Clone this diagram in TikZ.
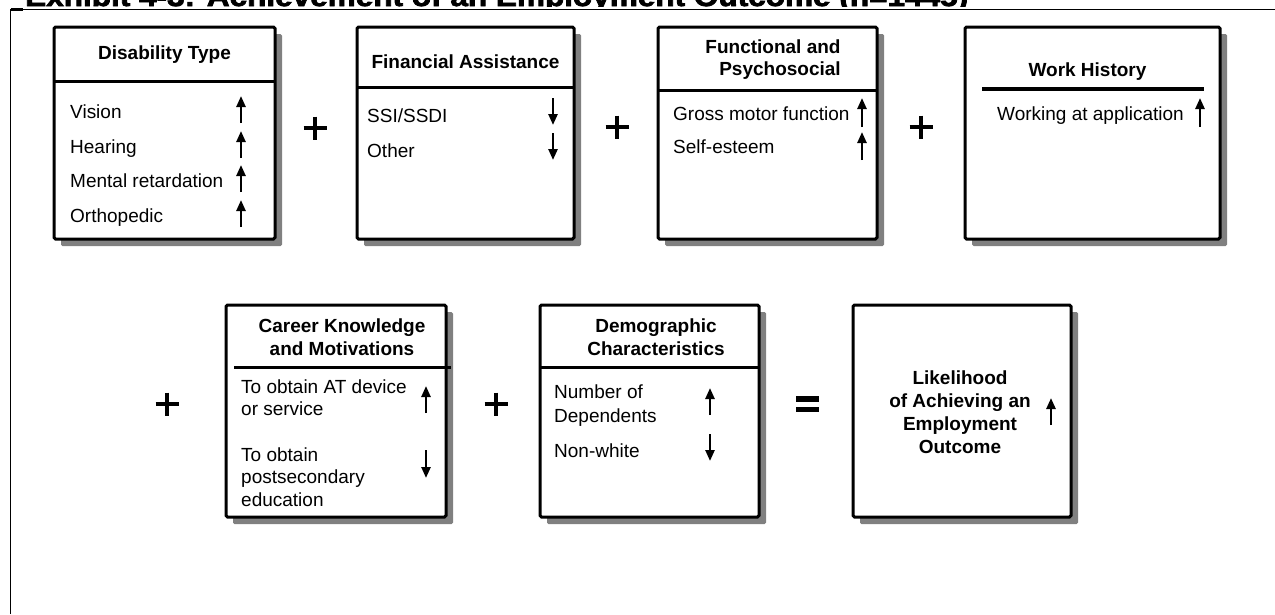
\documentclass[tikz,border=0pt]{standalone}
\usepackage{graphicx}
\usepackage{fontspec}
\setmainfont{Liberation Sans}
\newfontfamily\titlefont{Liberation Sans}[BoldFeatures={FakeBold=2.5}]
\usetikzlibrary{arrows.meta,shadows}
\definecolor{shade}{HTML}{808080}
\tikzset{
  panel/.style={draw=black, line width=3pt, fill=white, rounded corners=1.5pt, anchor=north west,
    inner sep=0pt, outer sep=0pt,
    general shadow={fill=shade, shadow xshift=7pt, shadow yshift=-7pt}},
  divider/.style={line width=3pt},
  lbl/.style={anchor=base west, inner sep=0pt, font=\fontsize{19}{22}\selectfont},
  head/.style={anchor=base, inner sep=0pt, font=\bfseries\fontsize{19}{22}\selectfont},
  trend/.style={line width=2.4pt, -{Triangle[width=9pt,length=11pt]}},
  signline/.style={line width=4.2pt},
  plussign/.pic={\draw[signline] (-11.5,0) -- (11.5,0) (0,-11.5) -- (0,11.5);},
}
\begin{document}
\begin{tikzpicture}[x=1pt,y=-1pt]
\useasboundingbox (0,0) rectangle (1275,614);

% frame and (cut) title
\begin{scope}
  \clip (0,-5) rectangle (1275,6.3);
  \node[anchor=base west, inner sep=0pt, font=\titlefont\bfseries\fontsize{28}{28}\selectfont] (title) at (25,6)
    {\resizebox{943pt}{\height}{Exhibit 4-3: Achievement of an Employment Outcome (n=1445)}};
\end{scope}
\coordinate (fTL) at (10.5,9.5);
\coordinate (fTR) at (1275,9.5);
\coordinate (fBL) at (10.5,614);
\coordinate (fTick) at (23,9.5);
\draw[line width=1.3pt] (fBL) -- (fTL) -- (fTR);
\draw[line width=2.6pt] (fTL) -- (fTick);

% ---------- row 1 ----------
\node[panel, minimum width=221pt, minimum height=212pt] (dis) at (54,27) {};
\draw[divider] (54,81) -- (275,81);
\node[head] (disT) at (164.5,59) {Disability Type};
\node[lbl] (d1) at (70,118) {Vision};
\node[lbl] (d2) at (70,153) {Hearing};
\node[lbl] (d3) at (70,187) {Mental retardation};
\node[lbl] (d4) at (70,222) {Orthopedic};
\draw[trend] (241,123) -- (241,96);
\draw[trend] (241,158) -- (241,131);
\draw[trend] (241,192) -- (241,165);
\draw[trend] (241,227) -- (241,200);

\pic at (315,128) {plussign};

\node[panel, minimum width=217pt, minimum height=212pt] (fin) at (357,27) {};
\draw[divider] (357,87) -- (574,87);
\node[head] (finT) at (465.5,68) {Financial Assistance};
\node[lbl] (f1) at (367,122) {SSI/SSDI};
\node[lbl] (f2) at (367,157) {Other};
\draw[trend] (553,98) -- (553,125);
\draw[trend] (553,133) -- (553,160);

\pic at (617,127) {plussign};

\node[panel, minimum width=219pt, minimum height=212pt] (fun) at (658,27) {};
\draw[divider] (658,90) -- (877,90);
\node[head] (funT1) at (773,53) {Functional and};
\node[head] (funT2) at (780,75) {Psychosocial};
\node[lbl] (g1) at (673,120) {Gross motor function};
\node[lbl] (g2) at (673,153) {Self-esteem};
\draw[trend] (862,127) -- (862,98);
\draw[trend] (862,160) -- (862,132);

\pic at (921,127) {plussign};

\node[panel, minimum width=255pt, minimum height=212pt] (work) at (965,27) {};
\node[head] (workT) at (1087.5,76) {Work History};
\draw[line width=3.5pt] (982,89) -- (1204,89);
\node[lbl] (w1) at (997,120) {Working at application};
\draw[trend] (1200,127) -- (1200,98);

% ---------- row 2 ----------
\pic at (167,404) {plussign};

\node[panel, minimum width=220pt, minimum height=212pt] (car) at (226,305) {};
\draw[divider] (234,367) -- (451,367);
\node[head] (carT1) at (342,332) {Career Knowledge};
\node[head] (carT2) at (342,355) {and Motivations};
\node[lbl] (c1) at (241,393) {To obtain AT device};
\node[lbl] (c2) at (241,415) {or service};
\node[lbl] (c3) at (241,461) {To obtain};
\node[lbl] (c4) at (241,483) {postsecondary};
\node[lbl] (c5) at (241,506) {education};
\draw[trend] (426,413) -- (426,386);
\draw[trend] (426,450) -- (426,478);

\pic at (496,404) {plussign};

\node[panel, minimum width=219pt, minimum height=212pt] (dem) at (540,305) {};
\draw[divider] (540,367) -- (759,367);
\node[head] (demT1) at (656,332) {Demographic};
\node[head] (demT2) at (656,355) {Characteristics};
\node[lbl] (e1) at (554,398) {Number of};
\node[lbl] (e2) at (554,422) {Dependents};
\node[lbl] (e3) at (554,457) {Non-white};
\draw[trend] (710,415) -- (710,388);
\draw[trend] (710,434) -- (710,461);

\coordinate (eqA1) at (796,399);
\coordinate (eqA2) at (819,399);
\coordinate (eqB1) at (796,409.5);
\coordinate (eqB2) at (819,409.5);
\draw[line width=5.5pt] (eqA1) -- (eqA2) (eqB1) -- (eqB2);

\node[panel, minimum width=218pt, minimum height=212pt] (out) at (853,305) {};
\node[head] (o1) at (960,384) {Likelihood};
\node[head] (o2) at (960,407) {of Achieving an};
\node[head] (o3) at (960,430) {Employment};
\node[head] (o4) at (960,453) {Outcome};
\draw[trend] (1051,425) -- (1051,398);
\end{tikzpicture}
\end{document}
